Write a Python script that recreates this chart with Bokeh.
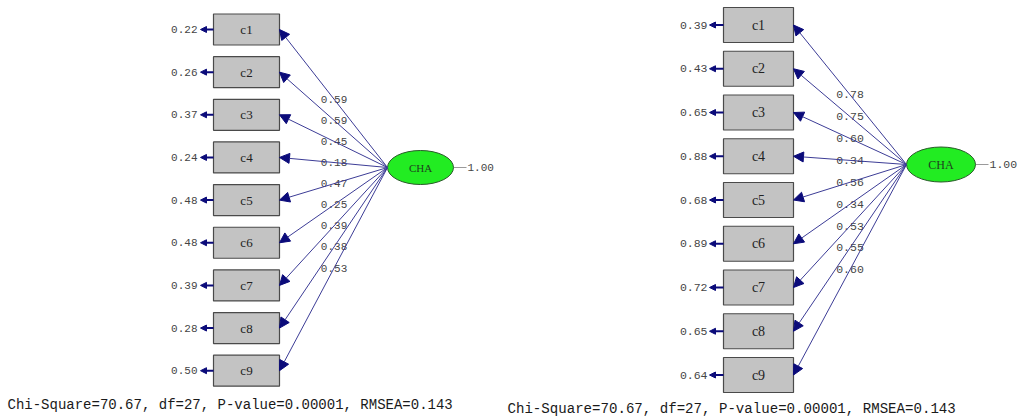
from bokeh.plotting import figure
from bokeh.models import Range1d, ColumnDataSource, Arrow, NormalHead
from bokeh.core.properties import value
from bokeh.embed import file_html
from bokeh.resources import INLINE

# ---------------- data ----------------
items = ["c1", "c2", "c3", "c4", "c5", "c6", "c7", "c8", "c9"]
latent = "CHA"
latent_variance = 1.00

left_loadings = [0.59, 0.59, 0.45, 0.18, 0.47, 0.25, 0.39, 0.38, 0.53]
left_errors = [0.22, 0.26, 0.37, 0.24, 0.48, 0.48, 0.39, 0.28, 0.50]
left_fit = "Chi-Square=70.67, df=27, P-value=0.00001, RMSEA=0.143"

right_loadings = [0.78, 0.75, 0.60, 0.34, 0.56, 0.34, 0.53, 0.55, 0.60]
right_errors = [0.39, 0.43, 0.65, 0.88, 0.68, 0.89, 0.72, 0.65, 0.64]
right_fit = "Chi-Square=70.67, df=27, P-value=0.00001, RMSEA=0.143"

# ---------------- figure ----------------
W, H = 1019, 419
p = figure(width=W, height=H, output_backend="svg", toolbar_location=None,
           x_range=Range1d(0, W), y_range=Range1d(H, 0),
           min_border=0, outline_line_color=None, background_fill_color="white")
p.axis.visible = False
p.grid.visible = False

MONO = value("Liberation Mono")
SERIF = value("Liberation Serif")
LINE_C = "#3c3c96"
HEAD_C = "#0b0b7a"
NUM_C = "#454545"


def panel(loadings, errors, fit, box_cx, box_w, box_h, y0, dy,
          ell_cx, ell_cy, ell_w, ell_h, err_text_x, err_tip_x,
          cap_x, cap_y, num_size, box_font, cha_font, cap_size, t=0.495):
    n = len(items)
    ys = [y0 + i * dy for i in range(n)]
    box_right = box_cx + box_w / 2
    box_left = box_cx - box_w / 2
    ell_left = ell_cx - ell_w / 2
    ell_right = ell_cx + ell_w / 2

    # loading arrows (latent -> indicators)
    src = ColumnDataSource(dict(x0=[ell_left] * n, y0=[ell_cy] * n,
                                x1=[box_right] * n, y1=ys))
    p.add_layout(Arrow(source=src, x_start="x0", y_start="y0", x_end="x1", y_end="y1",
                       line_color=LINE_C, line_width=1,
                       end=NormalHead(size=10, fill_color=HEAD_C, line_color=HEAD_C,
                                      line_width=1)))
    # error arrows
    esrc = ColumnDataSource(dict(x0=[box_left] * n, x1=[err_tip_x] * n, y=ys))
    p.add_layout(Arrow(source=esrc, x_start="x0", y_start="y", x_end="x1", y_end="y",
                       line_color=HEAD_C, line_width=2,
                       end=NormalHead(size=6, fill_color=HEAD_C, line_color=HEAD_C,
                                      line_width=1)))

    # boxes
    p.rect(x=[box_cx] * n, y=ys, width=box_w, height=box_h,
           fill_color="#c3c3c3", line_color="#4a4a4a", line_width=1.2)
    p.text(x=[box_cx] * n, y=ys, text=items, text_font=SERIF,
           text_font_size=box_font, text_align="center", text_baseline="middle",
           text_color="#222222")

    # error values
    p.text(x=[err_text_x] * n, y=ys, text=["%.2f" % e for e in errors],
           text_font=MONO, text_font_size=num_size, text_align="right",
           text_baseline="middle", text_color=NUM_C)

    # loading values along the lines
    lx = [ell_left + t * (box_right - ell_left)] * n
    ly = [ell_cy + t * (y - ell_cy) for y in ys]
    p.text(x=lx, y=ly, text=["%.2f" % v for v in loadings], text_font=MONO,
           text_font_size=num_size, text_align="center", text_baseline="middle",
           text_color=NUM_C)

    # latent ellipse
    p.segment(x0=[ell_right], y0=[ell_cy], x1=[ell_right + 13], y1=[ell_cy],
              line_color="#9a9a9a", line_width=1)
    p.ellipse(x=[ell_cx], y=[ell_cy], width=ell_w, height=ell_h,
              fill_color="#22ec22", line_color="#2a5a2a", line_width=1)
    p.text(x=[ell_cx], y=[ell_cy], text=[latent], text_font=SERIF,
           text_font_size=cha_font, text_align="center", text_baseline="middle",
           text_color="#1f3f1f")
    p.text(x=[ell_right + 14], y=[ell_cy], text=["%.2f" % latent_variance],
           text_font=MONO, text_font_size=num_size, text_align="left",
           text_baseline="middle", text_color=NUM_C)

    # fit statistics
    p.text(x=[cap_x], y=[cap_y], text=[fit], text_font=MONO,
           text_font_size=cap_size, text_align="left", text_baseline="middle",
           text_color="#1a1a1a")


panel(left_loadings, left_errors, left_fit,
      box_cx=246, box_w=66, box_h=31, y0=29, dy=42.65,
      ell_cx=420, ell_cy=167, ell_w=66, ell_h=34,
      err_text_x=197, err_tip_x=200,
      cap_x=7, cap_y=404, num_size="11px", box_font="13px", cha_font="11px",
      cap_size="14px")

panel(right_loadings, right_errors, right_fit,
      box_cx=758, box_w=70, box_h=35, y0=24.5, dy=43.75,
      ell_cx=940.5, ell_cy=164, ell_w=69, ell_h=35,
      err_text_x=707, err_tip_x=709,
      cap_x=507, cap_y=408, num_size="11.5px", box_font="14px", cha_font="12px",
      cap_size="14.1px", t=0.5)

open("out.html", "w").write(file_html(p, INLINE))
